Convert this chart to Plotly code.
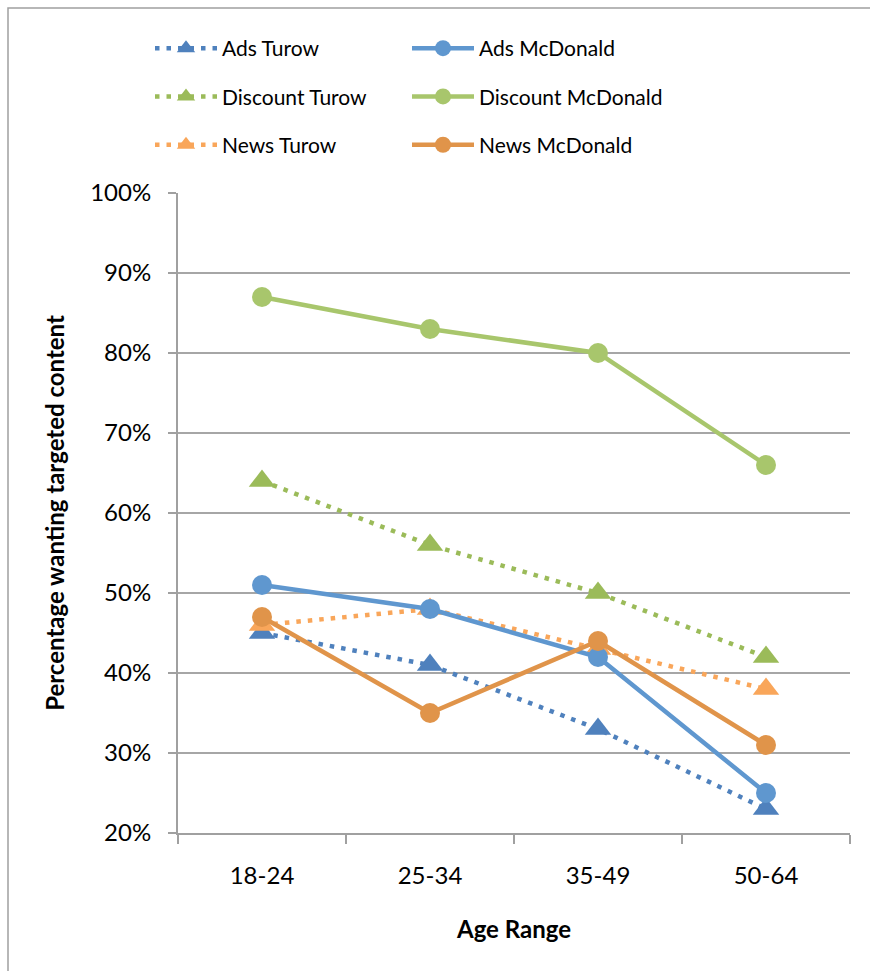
import plotly.graph_objects as go

categories = ["18-24", "25-34", "35-49", "50-64"]
ads_turow = [45, 41, 33, 23]
ads_mcdonald = [51, 48, 42, 25]
discount_turow = [64, 56, 50, 42]
discount_mcdonald = [87, 83, 80, 66]
news_turow = [46, 48, 43, 38]
news_mcdonald = [47, 35, 44, 31]
y_ticks = [20, 30, 40, 50, 60, 70, 80, 90, 100]
y_tick_labels = [f"{v}%" for v in y_ticks]

FONT = "Lato"
W, H = 870, 971
L, R, T, B = 178, 20, 193, 138
pw, ph = W - L - R, H - T - B

def px_x(p):
    return (p - L) / pw

def px_y(p):
    return (H - B - p) / ph

series = [
    ("Ads Turow", ads_turow, "#4F81BD", "turow", "legend"),
    ("Ads McDonald", ads_mcdonald, "#5F97CF", "mc", "legend2"),
    ("Discount Turow", discount_turow, "#9BBB59", "turow", "legend"),
    ("Discount McDonald", discount_mcdonald, "#A8C66C", "mc", "legend2"),
    ("News Turow", news_turow, "#F9A65A", "turow", "legend"),
    ("News McDonald", news_mcdonald, "#E0944A", "mc", "legend2"),
]

fig = go.Figure()
draw_order = [0, 2, 4, 1, 3, 5]
for i in draw_order:
    name, vals, col, kind, leg = series[i]
    if kind == "turow":
        line = dict(color=col, width=4.5, dash="4.5px,7px")
        marker = dict(symbol="triangle-up", size=23, color=col)
    else:
        line = dict(color=col, width=4.5)
        marker = dict(symbol="circle", size=20, color=col)
    fig.add_trace(go.Scatter(
        x=categories, y=vals, name=name, mode="lines+markers",
        line=line, marker=marker, legend=leg, legendgroup=name,
        legendrank=i,
    ))

legend_common = dict(
    font=dict(family=FONT, size=21, color="#000000"),
    bgcolor="rgba(0,0,0,0)", tracegroupgap=18,
    traceorder="grouped",
    itemwidth=62, xanchor="left", yanchor="top",
)

tick_font = dict(family=FONT, size=24, color="#000000")
title_font = dict(family=FONT, size=24, color="#000000")

fig.update_layout(
    width=W, height=H,
    margin=dict(l=L, r=R, t=T, b=B, pad=0),
    paper_bgcolor="white", plot_bgcolor="white",
    showlegend=True,
    legend=dict(x=px_x(150), y=px_y(28), **legend_common),
    legend2=dict(x=px_x(407), y=px_y(28), **legend_common),
    xaxis=dict(
        type="category", categoryorder="array", categoryarray=categories,
        range=[-0.5, 3.5],
        showline=True, linecolor="#A0A0A0", linewidth=2,
        ticks="outside", tickson="boundaries", ticklen=9, tickwidth=2,
        tickcolor="#A0A0A0", showgrid=False,
        tickfont=tick_font, ticklabelstandoff=20,
        title=dict(text="<b>Age Range</b>", standoff=33, font=title_font),
        zeroline=False,
    ),
    yaxis=dict(
        range=[20, 100], tickvals=y_ticks, ticktext=y_tick_labels,
        showline=True, linecolor="#A0A0A0", linewidth=2,
        ticks="outside", ticklen=8, tickwidth=2, tickcolor="#A0A0A0",
        showgrid=True, gridcolor="#A6A6A6", gridwidth=2,
        tickfont=tick_font, ticklabelstandoff=12,
        title=dict(text="<b>Percentage wanting targeted content</b>", standoff=19,
                   font=title_font),
        zeroline=False,
    ),
    shapes=[dict(
        type="rect", xref="paper", yref="paper",
        x0=px_x(8), x1=px_x(880), y0=px_y(985), y1=px_y(8),
        line=dict(color="#A0A0A0", width=1.5), fillcolor="rgba(0,0,0,0)",
        layer="below",
    )],
)

fig.write_html("out.html")
